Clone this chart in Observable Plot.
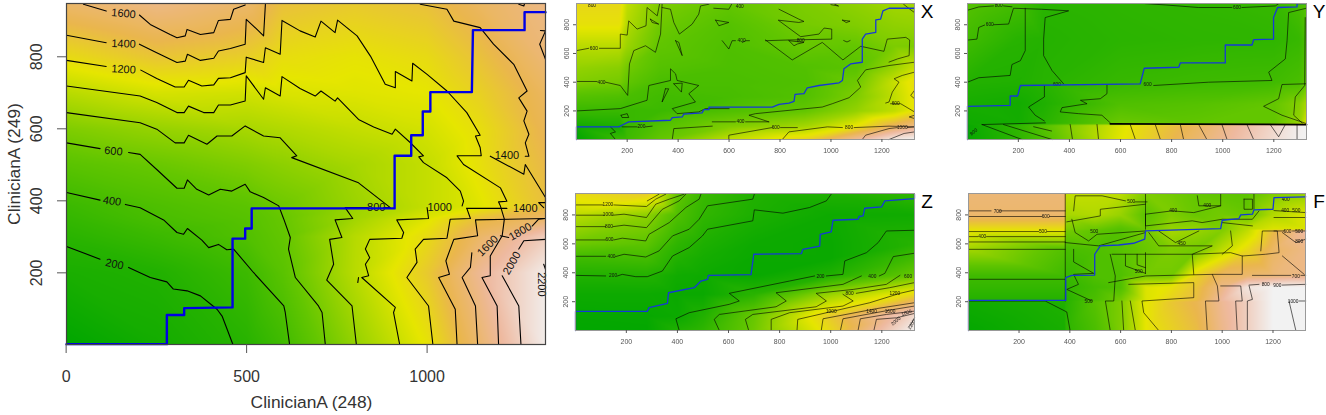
<!DOCTYPE html>
<html><head><meta charset="utf-8">
<script src="https://cdn.jsdelivr.net/npm/d3@7"></script>
<script src="https://cdn.jsdelivr.net/npm/@observablehq/plot@0.6"></script>
<style>
html,body{margin:0;padding:0;background:#fff;}
#root{position:relative;width:1326px;height:415px;overflow:hidden;font-family:"Liberation Sans",Arial,sans-serif;}
.p{position:absolute;} .p svg{display:block;background:transparent;}
.tag{position:absolute;font-size:19px;line-height:19px;color:#000;transform:translate(-50%,-50%);}
</style></head><body><div id="root"></div>
<script>
const xDomain=[1,1328], yDomain=[1,948];
const terrainStops=[0,.25,.5,.64,.8,1];
const terrainColors=["#00A600","#63C600","#E6E600","#EAB64E","#EEB99F","#F2F2F2"];
const mainXTicks=[0,500,1000], mainYTicks=[200,400,600,800];
const smallXTicks=[200,400,600,800,1000,1200], smallYTicks=[200,400,600,800];

// ---- main panel ----
const mainXs=[1,250,500,600,800,1000,1150,1328];
const mainYs=[1,200,300,350,385,500,600,700,800,948];
const mainField=[
[0,110,230,370,790,1170,1630,2250],
[150,190,350,520,950,1340,1800,2250],
[240,340,470,570,940,1230,1600,2000],
[300,420,500,590,850,1120,1420,1600],
[340,450,530,620,820,1000,1130,1400],
[520,600,700,760,870,1000,1200,1450],
[700,800,880,920,1000,1070,1210,1500],
[950,1080,1060,1100,1120,1150,1300,1550],
[1230,1370,1310,1210,1170,1230,1400,1650],
[1600,1720,1600,1400,1340,1400,1560,1720]];
const mainBlue=[[1,2],[279,2],[279,83],[327,83],[327,102],[461,104],[461,295],[496,295],[496,323],[514,323],[514,379],[910,379],[910,525],[956,525],[956,582],[988,582],[988,648],[1009,648],[1009,702],[1124,702],[1127,874],[1270,874],[1270,924],[1328,924]];
const mainLines=[
[[48,946],[111,927]],
[[203,916],[233,890],[288,862],[307,853],[330,858],[335,876],[372,862],[409,867],[422,901],[455,904],[464,932],[496,944]],
[[1,860],[111,839]],
[[203,835],[251,811],[307,784],[330,788],[336,807],[372,790],[409,796],[422,816],[455,823],[496,835],[499,904],[533,872],[547,858],[552,946]],
[[1,790],[111,773]],
[[207,763],[251,740],[302,716],[327,716],[339,735],[376,719],[409,722],[422,740],[455,742],[496,756],[499,799],[547,784],[552,825],[593,807],[598,901],[648,872],[690,855],[706,899],[745,867],[752,902],[806,858],[843,802],[884,724],[912,714],[912,759],[958,733],[960,782],[1000,751],[1055,705],[1110,645],[1147,582],[1134,580],[1147,548],[1150,525],[1083,525],[1101,501],[1203,436],[1221,399],[1198,397],[1203,386],[1214,349],[1208,303],[1175,247],[1175,192],[1152,187],[1194,108],[1198,1]],
[[1,719],[205,691],[251,673],[307,645],[327,645],[339,663],[381,645],[409,645],[422,666],[455,666],[496,677],[499,747],[547,682],[552,714],[593,691],[598,745],[648,712],[690,691],[706,705],[745,677],[752,686],[810,626],[852,605],[903,585],[912,599],[953,562],[990,525],[977,522],[990,506],[1055,464],[1092,427],[1101,399],[1097,386]],
[[1000,381],[1004,351],[916,347],[935,312],[930,296],[841,293],[829,266],[841,242],[829,224],[838,192],[819,187],[912,104],[907,90],[924,1]],
[[1,645],[205,617],[251,599],[302,561],[327,561],[339,582],[390,557],[418,580],[459,580],[496,608],[547,580],[593,575],[639,525],[625,520],[810,450],[898,381],[880,381]],
[[835,381],[773,381],[794,351],[745,347],[764,298],[730,293],[741,224],[722,180],[792,108],[804,1]],
[[1,561],[94,545]],
[[173,534],[205,529],[251,487],[307,435],[327,435],[336,458],[362,432],[395,416],[427,432],[459,427],[496,446],[510,425],[547,409],[589,386],[603,349],[621,298],[616,266],[635,187],[699,108],[709,90],[718,1]],
[[1,423],[94,402]],
[[164,390],[205,381],[270,347],[307,312],[325,307],[336,323],[376,291],[395,270],[422,279],[445,264],[464,266],[519,201],[603,108],[607,90],[619,1]],
[[1,273],[94,238]],
[[173,215],[233,187],[279,175],[297,155],[335,150],[372,136],[418,99],[432,80],[462,1]],
[[981,946],[1055,932],[1074,899],[1147,881],[1184,835],[1240,779],[1277,705],[1254,686],[1277,649],[1268,622],[1282,585],[1272,561],[1282,524],[1272,524]],
[[1175,524],[1268,474],[1272,501],[1328,409],[1328,395],[1309,395],[1323,381]],
[[1254,946],[1268,941],[1270,948]],[[1314,873],[1328,872],[1312,835],[1328,793]],
[[1110,379],[1221,379]],
[[1110,379],[1120,351],[1064,349],[1055,296],[990,293],[967,266],[972,229],[944,187],[1004,108],[1016,1]],
[[1328,351],[1134,347],[1140,303],[1074,293],[1052,233],[1062,196],[1032,187],[1078,99],[1083,1]],
[[1124,256],[1120,215],[1097,187],[1134,108],[1140,1]],
[[1208,192],[1254,108],[1260,1]],[[1254,266],[1268,289],[1328,293]],
[[1226,298],[1203,303]],[[1291,330],[1309,349],[1328,351]],
[[1323,224],[1328,210]],[[810,187],[808,173]]];
const mainLabels=[[159,920,"1600",5],[159,836,"1400",2],[159,765,"1200",3],[131,538,"600",5],[127,399,"400",8],[134,224,"200",12],[859,381,"800",0],[1035,381,"1000",0],[1221,525,"1400",0],[1272,379,"1400",0],[1168,275,"1600",-45],[1258,314,"1800",-30],[1235,227,"2000",-60],[1318,168,"2200",90]];

// ---- X ----
const xXs=[1,170,200,330,600,900,1100,1250,1328];
const xYs=[1,90,200,300,400,500,650,800,948];
const xField=[
[0,200,220,350,600,780,1100,1350,1400],
[60,90,200,300,430,530,720,950,1050],
[200,200,200,210,280,350,480,600,720],
[300,280,260,230,250,290,420,600,720],
[430,400,340,260,260,280,380,620,740],
[480,450,390,300,270,290,320,500,620],
[580,580,500,340,280,360,350,420,420],
[720,720,560,380,300,400,430,470,480],
[760,760,600,420,350,420,470,520,520]];
const xBlue=[[1,1],[1,89],[167,89],[187,107],[206,124],[370,135],[377,154],[416,158],[422,177],[494,186],[501,209],[521,209],[521,227],[770,227],[796,246],[835,255],[855,267],[859,315],[894,320],[907,361],[953,377],[1032,396],[1045,412],[1051,493],[1077,527],[1123,539],[1123,700],[1136,735],[1176,747],[1176,834],[1195,839],[1204,897],[1228,915],[1328,915]];
const xLines=[
[[1,620],[49,636]],[[91,636],[173,636],[173,735],[200,728],[206,827],[239,770],[274,793],[278,920],[318,862],[327,943]],
[[1,405],[82,405]],[[115,400],[173,377],[202,308],[209,527],[226,620],[272,654],[311,608],[331,735],[337,943]],
[[1,200],[173,216],[278,274],[285,377],[370,412],[370,493],[390,458],[396,412],[481,377],[442,320],[468,262],[377,216],[396,181],[481,193],[507,216],[600,216]],
[[756,124],[678,170],[704,181],[966,227],[1005,250],[1071,292],[1117,366],[1104,412],[1136,486],[1228,516],[1328,539]],
[[743,694],[848,555],[966,677],[1047,555],[1117,650],[1208,615],[1221,700],[1294,712],[1309,694],[1307,585],[1261,562],[1228,540]],
[[796,908],[874,839],[894,823],[874,816],[793,832],[881,717],[953,735],[973,777],[1003,770],[1003,700],[835,694],[743,689]],
[[176,170],[200,181],[206,154],[180,154],[176,170]],[[350,354],[363,354],[337,262],[350,354]],[[383,389],[416,394],[413,331],[383,389]],
[[134,89],[154,54],[134,43],[154,1]],[[534,94],[383,77],[377,1]],[[534,124],[625,124]],[[665,124],[756,124]],
[[180,89],[239,89]],[[272,89],[298,94]],[[599,1],[599,31],[769,84]],[[802,84],[868,84]],
[[809,1],[835,54],[986,89],[1045,84]],[[1091,84],[1228,94],[1328,89]],[[1123,1],[1136,31],[1228,77],[1261,84]],[[1300,84],[1328,89]],[[1228,1],[1287,43],[1328,54]],
[[1328,470],[1280,447],[1248,424],[1267,400],[1241,331],[1228,262],[1215,255]],[[1234,250],[1274,250],[1328,193]],
[[1328,343],[1313,308],[1328,285]],[[1328,170],[1307,158],[1328,147]],
[[337,920],[370,908],[383,816],[405,735],[455,804],[481,874],[488,931],[521,943]],[[540,915],[599,908],[610,943]],[[547,832],[560,793],[599,816],[547,832]],
[[291,839],[324,804],[298,816],[291,839]],[[390,689],[416,585],[403,677],[390,689]],[[573,689],[599,631],[612,689],[625,689]],[[652,677],[665,689],[680,689]],
[[835,689],[855,654],[868,666],[894,677],[835,689]],[[1045,832],[1075,825],[1060,815],[1045,832]],[[1050,690],[1063,680],[1075,690]],[[1285,943],[1310,908],[1328,885]],[[1000,940],[1030,930],[1010,948]]];
const xLabels=[[69,636,"600"],[99,396,"400"],[256,89,"200"],[645,124,"400"],[783,84,"600"],[1071,84,"800"],[1280,82,"1000"],[1254,250,"600"],[62,936,"800"],[642,924,"400"],[649,689,"400"],[881,689,"800"]];

// ---- Y ----
const yXs=[1,200,300,600,900,1200,1300,1328];
const yYs=[1,100,110,250,400,700,948];
const yField=[
[40,300,500,1280,1820,2400,2580,2600],
[60,320,560,1250,1750,2350,2560,2600],
[100,130,260,700,640,640,900,1250],
[150,120,200,520,560,650,820,1000],
[230,210,260,360,400,420,480,620],
[430,260,240,280,300,310,360,500],
[560,440,270,300,320,360,480,560]];
const yBlue=[[1,1],[1,232],[168,239],[168,304],[197,304],[208,377],[677,389],[693,497],[828,504],[834,534],[1010,534],[1010,659],[1115,659],[1121,696],[1199,700],[1199,850],[1215,920],[1291,924],[1291,947],[1327,947]];
const yLines=[
[[5,694],[38,700],[45,781],[68,798]],[[103,800],[162,805],[181,915],[290,908],[397,897],[305,850],[299,700],[299,585],[332,481],[377,389]],
[[227,915],[227,620],[208,550],[175,523],[168,447],[45,431],[1,400]],[[1,901],[45,924],[103,931]],[[142,931],[175,925]],
[[697,947],[775,938],[906,920],[1036,920]],[[1075,920],[1206,931],[1219,947]],
[[1327,915],[1258,885],[1252,689],[1245,562],[1180,470],[1193,412],[945,400],[730,377]],
[[1327,389],[1232,384],[1219,285],[1160,232],[1232,170],[1327,112]],
[[1323,850],[1321,377],[1284,297],[1278,170],[1311,116]],
[[547,382],[547,320],[521,285],[443,274],[469,250],[371,223],[364,193],[436,181],[527,170],[560,117]],
[[302,377],[302,297],[240,227],[266,170],[302,130]],
[[58,105],[306,117]],[[58,105],[214,1]],[[142,105],[332,1]],[[403,105],[412,1]],[[508,105],[514,1]],[[638,105],[658,1]],[[736,105],[756,1]],[[834,105],[847,1]],[[906,105],[938,1]],[[997,105],[1017,1]],[[1095,105],[1121,1]],[[1186,105],[1219,20],[1245,105]],[[1291,105],[1291,1]],
[[260,90],[330,60]]];
const yThick=[[560,110],[1328,105]];
const yLabels=[[88,800,"600"],[123,936,"800"],[1056,920,"600"],[351,382,"600"],[706,382,"600"],[25,54,"800",-40]];

// ---- Z ----
const zXs=[1,280,400,500,700,1000,1328];
const zYs=[1,100,250,380,500,600,800,948];
const zField=[
[10,20,190,280,650,1300,2400],
[30,40,70,200,620,1400,2200],
[80,80,60,60,250,850,1300],
[200,210,100,80,50,200,620],
[380,410,200,130,60,60,400],
[650,560,280,180,80,60,230],
[1000,800,480,300,170,80,100],
[1300,1400,600,350,200,190,300]];
const zBlue=[[1,1],[1,133],[282,133],[289,159],[361,189],[365,262],[466,297],[492,343],[518,355],[521,382],[688,387],[699,528],[885,532],[891,562],[957,585],[959,666],[1002,682],[1009,763],[1107,770],[1111,789],[1127,793],[1133,846],[1199,855],[1212,897],[1328,913],[1328,943]];
const zLines=[
[[1,382],[119,378]],[[165,378],[184,389],[237,373],[282,373],[341,412],[381,516],[446,574],[498,655],[518,701],[695,759],[701,835],[813,812],[917,851],[983,897],[1002,943]],
[[1,514],[119,514]],[[158,512],[191,528],[276,509],[328,551],[381,655],[446,701],[485,770],[518,863],[695,909],[701,943]],
[[1,627],[119,627]],[[151,627],[184,639],[276,620],[289,666],[368,747],[433,851],[485,909],[492,943]],
[[1,719],[119,719]],[[148,719],[191,729],[279,712],[341,839],[407,897],[433,943]],
[[1,798],[112,798]],[[148,798],[191,805],[279,782],[315,874],[368,909],[426,943]],
[[1,869],[108,869]],[[151,869],[279,858],[315,909],[354,943]],[[282,897],[328,943]],
[[1328,694],[1218,689],[1186,609],[1140,539],[1055,482],[1048,389],[983,378]],[[937,378],[839,343],[603,258],[642,205],[603,182],[446,124],[394,82],[407,1]],
[[1328,535],[1245,512],[1212,396],[1190,378]],[[1120,378],[1048,320],[786,262],[826,205],[786,165],[564,112],[544,78],[564,1]],
[[1271,382],[1218,320],[1088,285],[943,258],[983,205],[943,165],[695,112],[666,78],[679,1]],
[[1328,332],[1231,297],[1100,258]],[[1048,251],[1088,205],[1048,170],[839,124],[767,78],[767,1]],
[[1328,281],[1271,258],[1153,193],[871,78],[868,1]],[[1328,193],[1179,152],[970,82],[963,1]],[[1328,170],[1231,142],[1048,82],[1038,1]],[[1328,135],[1218,112],[1116,82],[1107,1]],[[1328,119],[1258,89],[1179,78],[1169,1]],[[1310,32],[1328,89]]];
const zLabels=[[148,382,"200"],[142,514,"400"],[134,627,"600"],[132,719,"800"],[129,800,"1000"],[128,874,"1200"],[960,378,"200"],[1163,378,"400"],[1303,378,"600"],[1074,258,"800"],[1002,131,"1000"],[1251,258,"1200"],[1160,131,"1400"],[1232,131,"1600"],[1297,124,"1800",-20],[1255,66,"2000",-40],[1317,43,"2200",-60]];

// ---- F ----
const fXs=[1,380,385,500,600,700,800,900,1000,1100,1200,1328];
const fYs=[1,200,210,300,380,560,690,700,800,948];
const fField=[
[10,60,110,190,300,500,560,620,760,880,1000,1000],
[40,80,100,220,300,500,590,650,780,880,1000,1000],
[90,90,100,190,280,480,560,620,800,900,1000,1000],
[130,130,120,170,200,480,520,600,750,950,1000,1000],
[160,160,140,200,200,280,280,560,680,700,720,750],
[370,210,180,200,220,260,300,280,420,540,680,750],
[500,500,280,240,210,280,380,350,310,430,620,800],
[520,520,300,260,210,260,350,350,300,420,480,480],
[700,700,380,400,350,230,300,260,280,260,400,480],
[720,720,430,430,420,300,280,250,240,230,300,340]];
const fBlue=[[1,1],[1,209],[384,209],[384,366],[408,382],[498,384],[498,528],[520,586],[592,592],[651,604],[695,632],[698,689],[994,705],[1000,763],[1066,775],[1073,800],[1119,805],[1125,835],[1200,839],[1204,920],[1329,925]];
const fLines=[
[[1,828],[90,828]],[[122,828],[382,828]],[[1,789],[290,789]],[[320,789],[382,789]],[[1,685],[278,685]],[[310,685],[382,685]],[[1,650],[38,650]],[[72,650],[382,650]],[[1,613],[382,613]],[[1,562],[382,562]],[[1,355],[382,355]],
[[1,205],[303,205],[388,129],[401,1]],[[382,943],[382,205]],
[[415,828],[421,932],[527,932],[619,897]],[[658,890],[704,890]],[[698,943],[698,701]],[[388,752],[520,793],[520,839],[698,874]],
[[698,805],[803,828],[888,816],[994,863],[994,943]],[[698,805],[698,724],[882,759],[921,747],[1000,770],[1119,770],[1145,828]],
[[415,562],[415,475],[494,396],[415,389],[434,320],[388,285],[487,205]],
[[559,528],[579,378],[573,205],[540,205],[559,1]],[[619,528],[619,447],[698,396]],[[665,528],[665,455],[698,435]],[[698,539],[698,396]],
[[382,609],[513,586],[698,678]],[[408,770],[421,678],[474,620],[507,666],[698,689]],[[711,678],[750,586],[961,586],[882,528],[888,389]],[[750,689],[816,609],[908,689]],
[[566,528],[882,528],[1033,539],[1079,516],[1171,528],[1224,539],[1217,689],[1158,689],[1152,551]],[[1033,689],[1040,586],[1000,528]],
[[553,332],[698,378],[961,389],[1079,389],[1079,516]],[[632,320],[888,332],[888,228],[684,205],[691,124],[750,1]],[[961,389],[981,309],[987,205],[934,205],[941,1]],
[[994,309],[1073,309],[1079,205],[1053,205],[1059,1]],[[1106,309],[1119,216],[1099,205],[1099,1]],[[1106,315],[1145,320]],[[1237,315],[1329,320]],[[1263,205],[1290,1]],[[1303,205],[1329,205]],
[[1237,516],[1323,389]],[[1119,382],[1270,382]],[[1310,382],[1329,382]],[[1237,678],[1290,609],[1329,632]],[[1204,689],[1245,689]],[[1277,689],[1329,689]],
[[1086,909],[1119,909],[1119,839],[1086,839],[1086,909]],[[1125,943],[1125,839]],[[902,932],[908,863],[994,863]],[[1204,782],[1329,782]],[[1119,724],[1000,747]],[[605,205],[612,1]],[[638,205],[658,1]],[[1204,830],[1329,816]]];
const fLabels=[[116,823,"700"],[305,789,"600"],[294,685,"500"],[55,650,"400"],[642,890,"500"],[807,828,"400"],[941,867,"400"],[1250,909,"400"],[1248,828,"400"],[1292,828,"500"],[474,205,"500"],[671,408,"500"],[840,604,"450"],[496,689,"500"],[1171,320,"800"],[1217,315,"900"],[1290,378,"700"],[1279,205,"1000"],[1257,689,"600"],[1303,615,"800"],[1303,689,"500"]];

function grid(xs,ys,m){const out=[];ys.forEach((y,i)=>xs.forEach((x,j)=>out.push({x,y,v:m[i][j]})));return out;}
function tab(lines){return lines.flatMap((l,i)=>l.map(([x,y])=>({x,y,z:i})));}
function lab(a){return a.map(([x,y,t,r])=>({x,y,t,r:r||0}));}

function panel(o){
  const extra=[];
  if(o.thick) extra.push(Plot.line(o.thick,{x:d=>d[0],y:d=>d[1],stroke:"#000",strokeWidth:1.8}));
  const titles=[];
  if(o.xl) titles.push(Plot.text([o.xl],{text:d=>d,frameAnchor:"bottom",dx:5.5,dy:58,fontSize:o.titleSize,fill:o.tc,lineAnchor:"middle"}));
  if(o.yl) titles.push(Plot.text([o.yl],{text:d=>d,frameAnchor:"left",rotate:-90,dx:-52,dy:-10,fontSize:o.titleSize,fill:o.tc,textAnchor:"middle",lineAnchor:"middle"}));
  const fig=Plot.plot({
    width:o.fw+o.ml+o.mr,height:o.fh+o.mt+o.mb,
    marginLeft:o.ml,marginRight:o.mr,marginTop:o.mt,marginBottom:o.mb,
    style:{background:"transparent",fontFamily:'"Liberation Sans",Arial,sans-serif',overflow:"visible"},
    x:{domain:xDomain},y:{domain:yDomain},
    color:{type:"linear",domain:terrainStops.map(s=>s*o.max),range:terrainColors,interpolate:"rgb"},
    marks:[
      Plot.raster(grid(o.xs,o.ys,o.field),{x:"x",y:"y",fill:"v",interpolate:"barycentric",pixelSize:1}),
      Plot.line(tab(o.lines),{x:"x",y:"y",z:"z",stroke:"#000",strokeWidth:o.lw,strokeOpacity:o.lo,curve:"linear"}),
      ...extra,
      Plot.text(lab(o.labels),{x:"x",y:"y",text:"t",rotate:"r",fontSize:o.lf,fill:"#111"}),
      Plot.line(o.blue,{x:d=>d[0],y:d=>d[1],stroke:o.bc,strokeWidth:o.bw,curve:"linear"}),
      Plot.frame({stroke:o.fc,strokeWidth:o.big?1.2:1}),
      Plot.axisX({ticks:o.xt,tickFormat:d=>String(d),tickSize:o.ts,tickPadding:o.tp,fontSize:o.tf,stroke:"#555",fill:o.tc,label:null}),
      Plot.axisY({ticks:o.yt,tickFormat:d=>String(d),tickSize:o.ts,tickPadding:o.tpy,tickRotate:-90,fontSize:o.tf,stroke:"#555",fill:o.tc,textAnchor:"middle",label:null}),
      ...titles
    ]
  });
  const d=document.createElement("div");d.className="p";
  d.style.left=(o.fx-o.ml)+"px";d.style.top=(o.fy-o.mt)+"px";
  if(!o.big) d.style.filter="blur(0.35px)";
  d.appendChild(fig);document.getElementById("root").appendChild(d);
}
const bigOpts={big:true,ml:66,mr:4,mt:3,mb:70,lw:1.1,lo:1,lf:11,bc:"#0000E6",bw:2.4,ts:9,tp:17,tpy:16,tf:16,titleSize:17.4,tc:"#333",fc:"#444"};
const smallOpts={ml:22,mr:4,mt:3,mb:26,lw:.75,lo:.8,lf:4.8,bc:"#1538D8",bw:1.3,ts:3,tp:6,tpy:5,tf:7,tc:"#555",fc:"#999"};
panel({...bigOpts,fx:66,fy:3,fw:479,fh:341,xs:mainXs,ys:mainYs,field:mainField,max:2300,lines:mainLines,labels:mainLabels,blue:mainBlue,xt:mainXTicks,yt:mainYTicks,xl:"ClinicianA (248)",yl:"ClinicianA (249)"});
const sh={...smallOpts,xt:smallXTicks,yt:smallYTicks};
panel({...sh,fx:576,fy:3,fw:338,fh:136,xs:xXs,ys:xYs,field:xField,max:1400,lines:xLines,labels:xLabels,blue:xBlue});
panel({...sh,fx:967,fy:3,fw:339,fh:136,xs:yXs,ys:yYs,field:yField,max:2600,lines:yLines,labels:yLabels,blue:yBlue,thick:yThick});
panel({...sh,fx:575,fy:193,fw:339,fh:137,xs:zXs,ys:zYs,field:zField,max:2400,lines:zLines,labels:zLabels,blue:zBlue});
panel({...sh,fx:968,fy:193,fw:337,fh:137,xs:fXs,ys:fYs,field:fField,max:1000,lines:fLines,labels:fLabels,blue:fBlue});
[["X",927,11],["Y",1319,11],["Z",927,201],["F",1319,201]].forEach(([t,l,y])=>{
  const e=document.createElement("div");e.className="tag";e.textContent=t;e.style.left=l+"px";e.style.top=y+"px";
  document.getElementById("root").appendChild(e);
});
</script></body></html>
